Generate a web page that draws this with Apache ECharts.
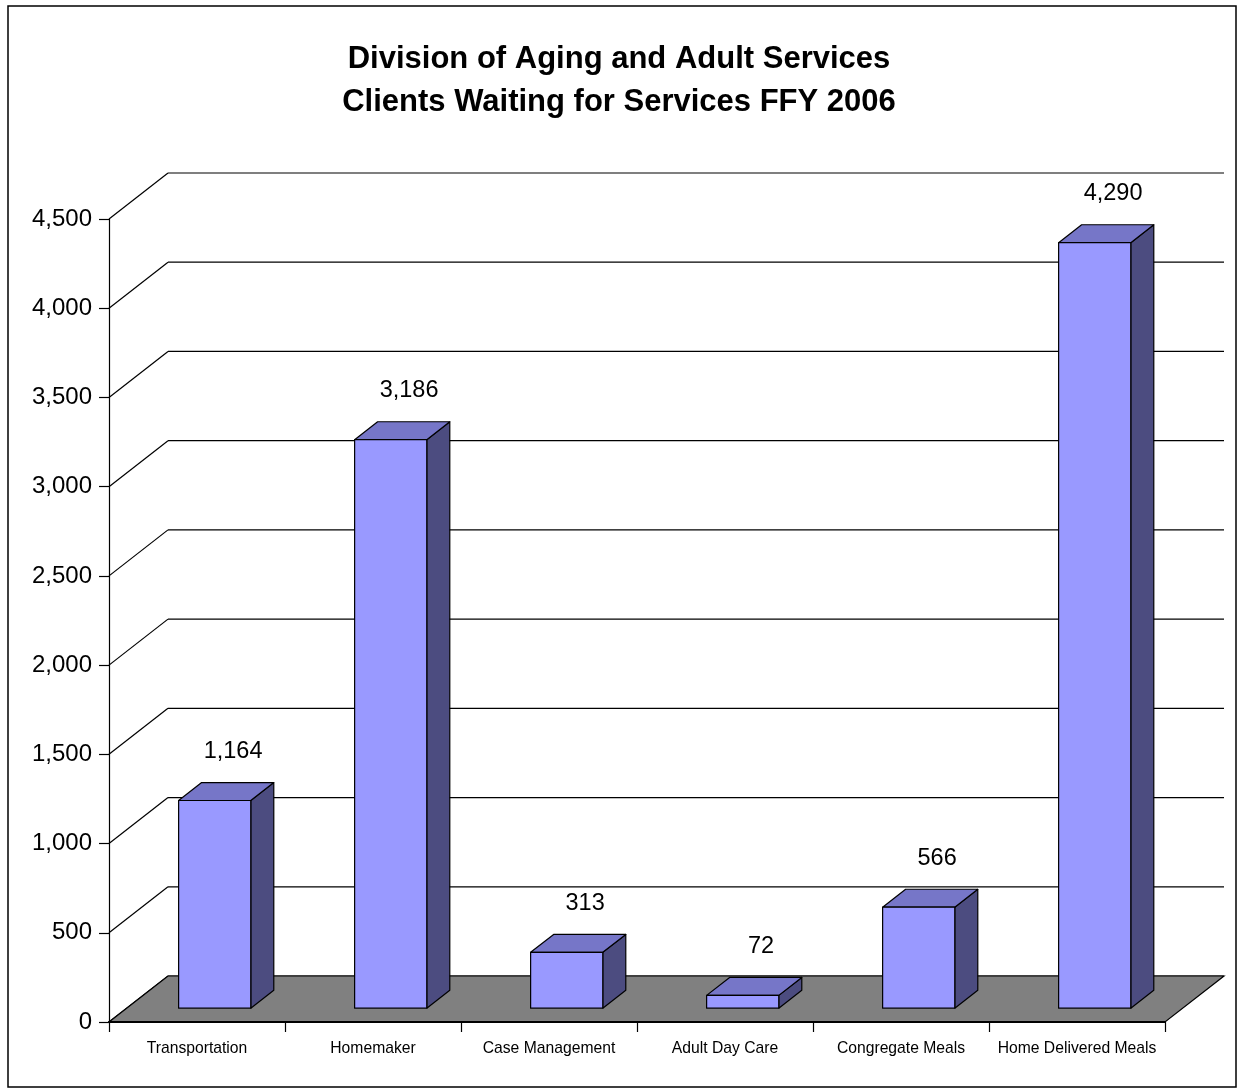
<!DOCTYPE html>
<html>
<head>
<meta charset="utf-8">
<title>Clients Waiting for Services FFY 2006</title>
<script src="https://cdn.jsdelivr.net/npm/echarts@6/dist/echarts.min.js"></script>
<style>
  html, body { margin: 0; padding: 0; background: #fff; }
  #chart { width: 1238px; height: 1089px; }
</style>
</head>
<body>
<div id="chart"></div>
<script>
// Services and the number of clients waiting for each
const categories = ['Transportation', 'Homemaker', 'Case Management', 'Adult Day Care', 'Congregate Meals', 'Home Delivered Meals'];
const clientsWaiting = [1164, 3186, 313, 72, 566, 4290];
// Value-axis tick levels (also used for the back-wall gridlines)
const yTicks = [0, 500, 1000, 1500, 2000, 2500, 3000, 3500, 4000, 4500];

// Oblique projection of the depth direction (pixels for the full floor depth)
const DEPTH_X = 59;
const DEPTH_Y = -46;
// Bars occupy this slice of the floor depth
const BAR_FRONT = 0.30;
const BAR_BACK = 0.69;
const BAR_WIDTH = 0.41;

const FONT = '"Liberation Sans", Arial, sans-serif';
const fmt = v => v.toLocaleString('en-US');

const chart = echarts.init(document.getElementById('chart'), null, { renderer: 'canvas' });

function renderWall(params, api) {
  const cs = params.coordSys;
  const y = api.coord([0, api.value(1)])[1];
  const x0 = cs.x;
  return {
    type: 'group',
    children: [
      { type: 'line', shape: { x1: x0, y1: y, x2: x0 + DEPTH_X, y2: y + DEPTH_Y },
        style: { stroke: '#000', lineWidth: 1.2 } },
      { type: 'line', shape: { x1: x0 + DEPTH_X, y1: y + DEPTH_Y, x2: x0 + cs.width + DEPTH_X, y2: y + DEPTH_Y },
        style: { stroke: '#000', lineWidth: 1.2 } }
    ]
  };
}

function renderFloor(params, api) {
  const cs = params.coordSys;
  const y0 = api.coord([0, 0])[1];
  const xl = cs.x, xr = cs.x + cs.width;
  return {
    type: 'polygon',
    shape: { points: [[xl, y0], [xr, y0], [xr + DEPTH_X, y0 + DEPTH_Y], [xl + DEPTH_X, y0 + DEPTH_Y]] },
    style: { fill: '#808080', stroke: '#000', lineWidth: 1.2 }
  };
}

function renderBar(params, api) {
  const i = api.value(0);
  const v = api.value(1);
  const base = api.coord([i, 0]);
  const top = api.coord([i, v]);
  const catW = api.size([1, 0])[0];
  const w = catW * BAR_WIDTH;
  const fx = BAR_FRONT * DEPTH_X, fy = BAR_FRONT * DEPTH_Y;
  const dx = (BAR_BACK - BAR_FRONT) * DEPTH_X, dy = (BAR_BACK - BAR_FRONT) * DEPTH_Y;
  const xl = base[0] - w / 2 + fx;
  const xr = xl + w;
  const yb = base[1] + fy;
  const yt = top[1] + fy;
  const edge = { stroke: '#000', lineWidth: 1.2, lineJoin: 'round' };
  return {
    type: 'group',
    children: [
      { type: 'polygon', shape: { points: [[xr, yb], [xr + dx, yb + dy], [xr + dx, yt + dy], [xr, yt]] },
        style: Object.assign({ fill: '#4C4C80' }, edge) },
      { type: 'polygon', shape: { points: [[xl, yt], [xr, yt], [xr + dx, yt + dy], [xl + dx, yt + dy]] },
        style: Object.assign({ fill: '#7676C8' }, edge) },
      { type: 'polygon', shape: { points: [[xl, yb], [xr, yb], [xr, yt], [xl, yt]] },
        style: Object.assign({ fill: '#9999FF' }, edge) },
      { type: 'text',
        style: { text: fmt(v), x: base[0] + fx + 0.8 * dx, y: yt + dy - 31,
                 align: 'center', verticalAlign: 'middle',
                 font: '23.5px ' + FONT, fill: '#000' } }
    ]
  };
}

const option = {
  backgroundColor: '#fff',
  animation: false,
  title: {
    text: 'Division of Aging and Adult Services\nClients Waiting for Services FFY 2006',
    left: 'center',
    top: 33,
    textStyle: { fontFamily: FONT, fontWeight: 'bold', fontSize: 31, lineHeight: 43, color: '#000' }
  },
  graphic: [
    { type: 'rect', shape: { x: 8, y: 6, width: 1228, height: 1081 },
      style: { fill: 'none', stroke: '#000', lineWidth: 1.5 }, z: 100 }
  ],
  grid: { left: 109, right: 73, top: 219, bottom: 67, containLabel: false },
  xAxis: {
    type: 'category',
    data: categories,
    z: 10,
    axisLine: { show: true, lineStyle: { color: '#000', width: 2 } },
    axisTick: { show: true, length: 10, lineStyle: { color: '#000', width: 1.2 } },
    axisLabel: { color: '#000', fontFamily: FONT, fontSize: 15.7, margin: 19, interval: 0 },
    splitLine: { show: false }
  },
  yAxis: {
    type: 'value',
    min: 0,
    max: 4500,
    interval: 500,
    z: 10,
    axisLine: { show: true, lineStyle: { color: '#000', width: 1.2 } },
    axisTick: { show: true, length: 10, lineStyle: { color: '#000', width: 1.2 } },
    axisLabel: { color: '#000', fontFamily: FONT, fontSize: 24, margin: 17, formatter: v => fmt(v) },
    splitLine: { show: false }
  },
  series: [
    { name: 'wall', type: 'custom', z: 1, silent: true,
      renderItem: renderWall, data: yTicks.map(v => [0, v]) },
    { name: 'floor', type: 'custom', z: 2, silent: true,
      renderItem: renderFloor, data: [[0, 0]] },
    { name: 'Clients Waiting', type: 'custom', z: 3,
      renderItem: renderBar, data: clientsWaiting.map((v, i) => [i, v]) }
  ]
};

chart.setOption(option);
</script>
</body>
</html>
